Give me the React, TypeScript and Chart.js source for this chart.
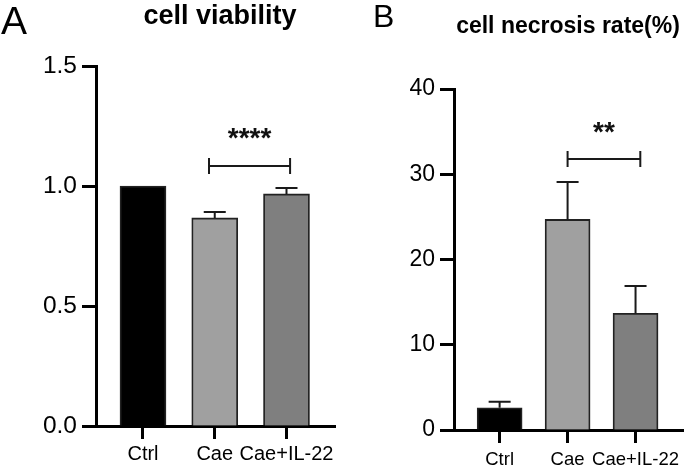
import React, { useEffect, useRef } from 'react';
import { Chart, registerables } from 'chart.js';

Chart.register(...registerables);

// ---- data ----
const categories = ['Ctrl', 'Cae', 'Cae+IL-22'];
const barColors = ['#000000', '#a0a0a0', '#7f7f7f'];

const viabilityMean = [1.0, 0.867, 0.967];
const viabilityErr = [0, 0.025, 0.025];
const viabilityTicks = [0, 0.5, 1.0, 1.5];

const necrosisMean = [2.6, 24.7, 13.7];
const necrosisErr = [0.7, 4.4, 3.2];
const necrosisTicks = [0, 10, 20, 30, 40];

// significance brackets (in axis units)
const viabilitySig = { from: 1.92, to: 3.05, y: 1.083, labelY: 1.163, label: '****' };
const necrosisSig = { from: 2.0, to: 3.07, y: 31.8, labelY: 33.9, label: '**' };

const FONT = '"Liberation Sans", Arial, Helvetica, sans-serif';

type Sig = { from: number; to: number; y: number; labelY: number; label: string };

type Panel = {
  left: number;
  width: number;
  height: number;
  letter: string;
  letterFont: string;
  letterX: number;
  letterY: number;
  title: string;
  titleFont: string;
  titleX: number;
  titleY: number;
  means: number[];
  errs: number[];
  ticks: number[];
  decimals: number;
  yMax: number;
  xMin: number;
  xMax: number;
  padTop: number;
  padRight: number;
  yWidth: number;
  xHeight: number;
  barThickness: number;
  tickFont: number;
  catFont: number;
  catPad: number;
  sig: Sig;
  starFont: string;
};

const panels: Panel[] = [
  {
    left: 0,
    width: 340,
    height: 467,
    letter: 'A',
    letterFont: `39px ${FONT}`,
    letterX: 1,
    letterY: 34,
    title: 'cell viability',
    titleFont: `bold 27px ${FONT}`,
    titleX: 220,
    titleY: 24,
    means: viabilityMean,
    errs: viabilityErr,
    ticks: viabilityTicks,
    decimals: 1,
    yMax: 1.5,
    xMin: 0.345,
    xMax: 3.676,
    padTop: 66,
    padRight: 5,
    yWidth: 96,
    xHeight: 41,
    barThickness: 46,
    tickFont: 24.5,
    catFont: 20,
    catPad: 4,
    sig: viabilitySig,
    starFont: `bold 28px ${FONT}`,
  },
  {
    left: 340,
    width: 345,
    height: 467,
    letter: 'B',
    letterFont: `32px ${FONT}`,
    letterX: 33,
    letterY: 27,
    title: 'cell necrosis rate(%)',
    titleFont: `bold 23px ${FONT}`,
    titleX: 228,
    titleY: 33,
    means: necrosisMean,
    errs: necrosisErr,
    ticks: necrosisTicks,
    decimals: 0,
    yMax: 40,
    xMin: 0.3285,
    xMax: 3.7,
    padTop: 89,
    padRight: 0,
    yWidth: 114,
    xHeight: 37,
    barThickness: 45,
    tickFont: 23,
    catFont: 18.5,
    catPad: 7,
    sig: necrosisSig,
    starFont: `bold 28px ${FONT}`,
  },
];

function makeChart(canvas: HTMLCanvasElement, p: Panel) {
  const annotate = {
    id: 'annotate',
    afterDatasetsDraw(chart: any) {
      const { ctx } = chart;
      const xs = chart.scales.x;
      const ys = chart.scales.y;
      const meta = chart.getDatasetMeta(0);
      ctx.save();
      ctx.strokeStyle = '#1a1a1a';
      ctx.lineWidth = 2;
      meta.data.forEach((bar: any, i: number) => {
        const e = p.errs[i];
        if (!e) return;
        const top = ys.getPixelForValue(p.means[i] + e);
        ctx.beginPath();
        ctx.moveTo(bar.x, bar.y);
        ctx.lineTo(bar.x, top);
        ctx.moveTo(bar.x - 11, top);
        ctx.lineTo(bar.x + 11, top);
        ctx.stroke();
      });
      const x1 = xs.getPixelForValue(p.sig.from);
      const x2 = xs.getPixelForValue(p.sig.to);
      const y = ys.getPixelForValue(p.sig.y);
      ctx.beginPath();
      ctx.moveTo(x1, y);
      ctx.lineTo(x2, y);
      ctx.moveTo(x1, y - 8);
      ctx.lineTo(x1, y + 8);
      ctx.moveTo(x2, y - 8);
      ctx.lineTo(x2, y + 8);
      ctx.stroke();
      ctx.fillStyle = '#111';
      ctx.font = p.starFont;
      ctx.textAlign = 'center';
      ctx.textBaseline = 'alphabetic';
      ctx.fillText(p.sig.label, (x1 + x2) / 2, ys.getPixelForValue(p.sig.labelY));
      ctx.restore();
    },
    afterDraw(chart: any) {
      const { ctx } = chart;
      ctx.save();
      ctx.fillStyle = '#000';
      ctx.textBaseline = 'alphabetic';
      ctx.textAlign = 'left';
      ctx.font = p.letterFont;
      ctx.fillText(p.letter, p.letterX, p.letterY);
      ctx.textAlign = 'center';
      ctx.font = p.titleFont;
      ctx.fillText(p.title, p.titleX, p.titleY);
      ctx.restore();
    },
  };

  const axisGrid = (len: number) => ({
    display: true,
    offset: false,
    drawOnChartArea: false,
    drawTicks: true,
    tickLength: len,
    tickWidth: 3,
    tickColor: '#000',
  });

  return new Chart(canvas, {
    type: 'bar',
    data: {
      datasets: [
        {
          data: p.means.map((v, i) => ({ x: i + 1, y: v })),
          backgroundColor: barColors,
          borderColor: '#222',
          borderWidth: 1.8,
          barThickness: p.barThickness,
        } as any,
      ],
    },
    options: {
      responsive: false,
      animation: false,
      layout: { padding: { top: p.padTop, right: p.padRight, left: 0, bottom: 0 } },
      plugins: {
        legend: { display: false },
        tooltip: { enabled: false },
        title: { display: false },
      },
      scales: {
        x: {
          type: 'linear',
          offset: false,
          min: p.xMin,
          max: p.xMax,
          afterBuildTicks: (s: any) => {
            s.ticks = categories.map((_, i) => ({ value: i + 1 }));
          },
          afterFit: (s: any) => {
            s.height = p.xHeight;
          },
          grid: axisGrid(13) as any,
          border: { display: true, width: 3, color: '#000' },
          ticks: {
            autoSkip: false,
            maxRotation: 0,
            padding: p.catPad - 1,
            color: '#000',
            font: { family: FONT, size: p.catFont },
            callback: (v: any) => categories[Math.round(v) - 1] ?? '',
          },
        },
        y: {
          type: 'linear',
          min: 0,
          max: p.yMax,
          afterBuildTicks: (s: any) => {
            s.ticks = p.ticks.map((v) => ({ value: v }));
          },
          afterFit: (s: any) => {
            s.width = p.yWidth;
          },
          grid: axisGrid(14) as any,
          border: { display: true, width: 3, color: '#000' },
          ticks: {
            padding: 5,
            color: '#000',
            font: { family: FONT, size: p.tickFont },
            callback: (v: any) => Number(v).toFixed(p.decimals),
          },
        },
      },
    } as any,
    plugins: [annotate],
  });
}

function PanelChart({ p }: { p: Panel }) {
  const ref = useRef<HTMLCanvasElement | null>(null);
  useEffect(() => {
    if (!ref.current) return;
    const chart = makeChart(ref.current, p);
    return () => chart.destroy();
  }, [p]);
  return (
    <div style={{ position: 'absolute', left: p.left, top: 0, width: p.width, height: p.height }}>
      <canvas ref={ref} width={p.width} height={p.height} style={{ width: p.width, height: p.height }} />
    </div>
  );
}

export default function App() {
  return (
    <div style={{ position: 'absolute', left: 0, top: 0, width: 685, height: 467, background: '#fff', overflow: 'hidden' }}>
      {panels.map((p) => (
        <PanelChart key={p.letter} p={p} />
      ))}
    </div>
  );
}
